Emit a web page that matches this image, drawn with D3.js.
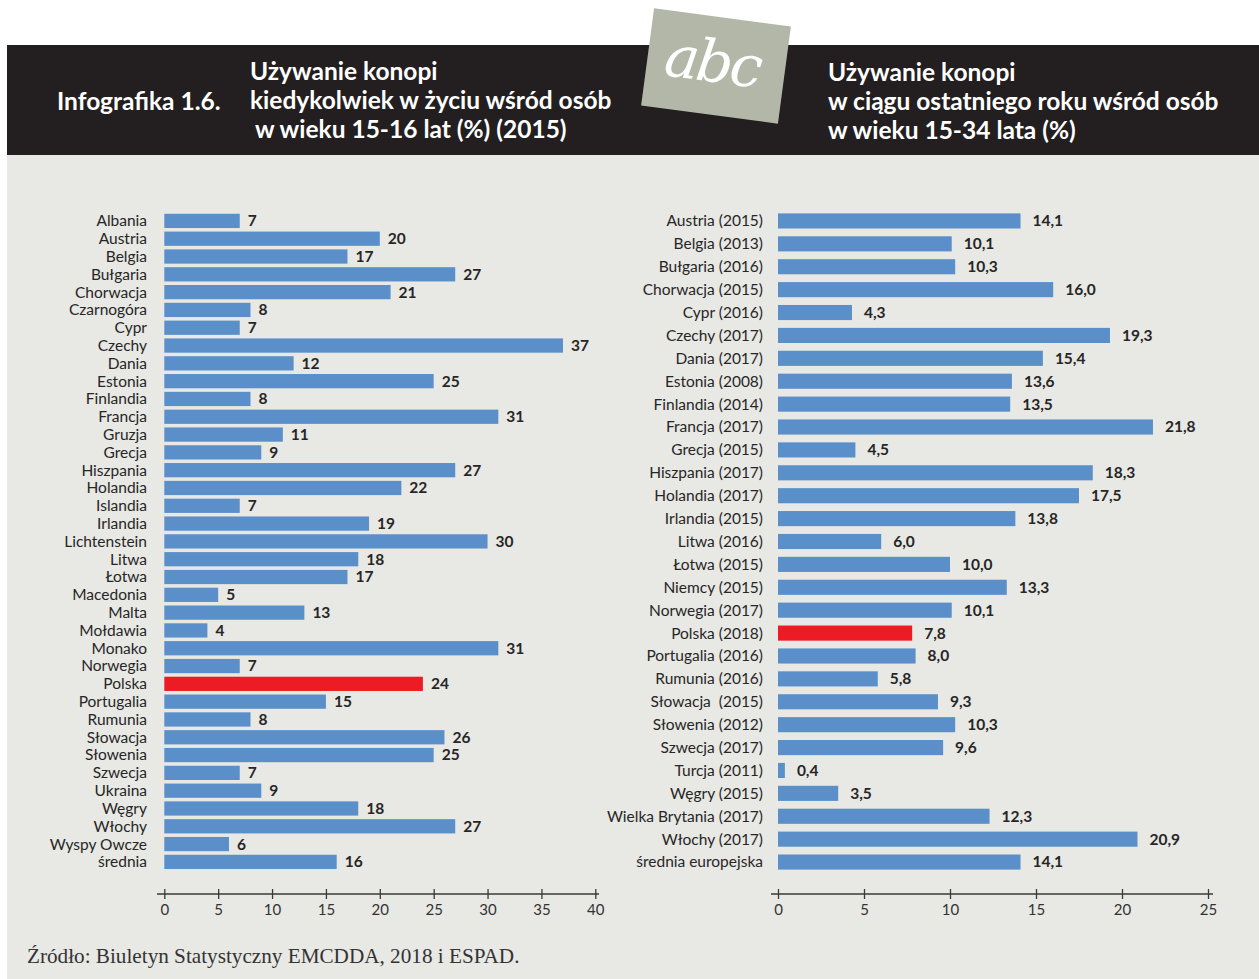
<!DOCTYPE html>
<html><head><meta charset="utf-8">
<script src="https://cdn.jsdelivr.net/npm/d3@7"></script>
<style>
html,body{margin:0;padding:0;background:#fff;}
svg{display:block;}
</style></head>
<body>
<script>
// ---- data ----
const leftCategories = ["Albania","Austria","Belgia","Bułgaria","Chorwacja","Czarnogóra","Cypr","Czechy","Dania","Estonia","Finlandia","Francja","Gruzja","Grecja","Hiszpania","Holandia","Islandia","Irlandia","Lichtenstein","Litwa","Łotwa","Macedonia","Malta","Mołdawia","Monako","Norwegia","Polska","Portugalia","Rumunia","Słowacja","Słowenia","Szwecja","Ukraina","Węgry","Włochy","Wyspy Owcze","średnia"];
const leftValues = [7,20,17,27,21,8,7,37,12,25,8,31,11,9,27,22,7,19,30,18,17,5,13,4,31,7,24,15,8,26,25,7,9,18,27,6,16];
const leftTicks = [0,5,10,15,20,25,30,35,40];

const rightCategories = ["Austria (2015)","Belgia (2013)","Bułgaria (2016)","Chorwacja (2015)","Cypr (2016)","Czechy (2017)","Dania (2017)","Estonia (2008)","Finlandia (2014)","Francja (2017)","Grecja (2015)","Hiszpania (2017)","Holandia (2017)","Irlandia (2015)","Litwa (2016)","Łotwa (2015)","Niemcy (2015)","Norwegia (2017)","Polska (2018)","Portugalia (2016)","Rumunia (2016)","Słowacja  (2015)","Słowenia (2012)","Szwecja (2017)","Turcja (2011)","Węgry (2015)","Wielka Brytania (2017)","Włochy (2017)","średnia europejska"];
const rightValues = [14.1,10.1,10.3,16.0,4.3,19.3,15.4,13.6,13.5,21.8,4.5,18.3,17.5,13.8,6.0,10.0,13.3,10.1,7.8,8.0,5.8,9.3,10.3,9.6,0.4,3.5,12.3,20.9,14.1];
const rightTicks = [0,5,10,15,20,25];

const highlight = ["Polska","Polska (2018)"];

const W = 1259, H = 979;
const FONT = "Lato, 'Open Sans', sans-serif";
const BLUE = "#5a8fca", RED = "#ed1c24", TXT = "#262626";

const svg = d3.select("body").append("svg").attr("width", W).attr("height", H);

// background panel
svg.append("rect").attr("x",7).attr("y",155).attr("width",W-7).attr("height",H-155).attr("fill","#e8e8e4");
// header band
svg.append("rect").attr("x",7).attr("y",45).attr("width",W-7).attr("height",110).attr("fill","#231f20");

// abc tag
const tag = svg.append("g").attr("transform","translate(716,66) rotate(7.6)");
tag.append("rect").attr("x",-69).attr("y",-49).attr("width",138).attr("height",98).attr("fill","#b3b7a8");
tag.append("text").attr("x",-4).attr("y",16).attr("text-anchor","middle")
  .attr("font-family","'DejaVu Serif', serif").attr("font-style","italic").attr("font-size",58)
  .attr("font-weight",300).attr("fill","#fff").attr("letter-spacing",-3).text("abc");

// header texts
const hdr = svg.append("g").attr("fill","#fff").attr("font-family",FONT).attr("font-weight","bold");
hdr.append("text").attr("x",57).attr("y",110).attr("font-size",24.5).text("Infografika 1.6.");
const lt = [["Używanie konopi",250,80],["kiedykolwiek w życiu wśród osób",250,109],["w wieku 15-16 lat (%) (2015)",255,138]];
lt.forEach(d=>hdr.append("text").attr("x",d[1]).attr("y",d[2]).attr("font-size",24.5).text(d[0]));
const rt = [["Używanie konopi",828,81],["w ciągu ostatniego roku wśród osób",828,110],["w wieku 15-34 lata (%)",828,139]];
rt.forEach(d=>hdr.append("text").attr("x",d[1]).attr("y",d[2]).attr("font-size",24.5).text(d[0]));

function drawChart(opts){
  const {cats, vals, ticks, x0, x1, dmax, yTop, yBot, pad, labelX, gap, fmt, axisL, axisR} = opts;
  const x = d3.scaleLinear().domain([0,dmax]).range([x0,x1]);
  const y = d3.scaleBand().domain(cats).range([yTop,yBot]).paddingInner(pad).paddingOuter(pad/2);
  const g = svg.append("g");
  const data = cats.map((c,i)=>({c, v: vals[i]}));
  g.selectAll("rect.bar").data(data).join("rect").attr("class","bar")
    .attr("x", x(0)).attr("y", d=>y(d.c)).attr("width", d=>x(d.v)-x(0)).attr("height", y.bandwidth())
    .attr("fill", d=>highlight.includes(d.c)?RED:BLUE);
  g.selectAll("text.cat").data(data).join("text").attr("class","cat")
    .attr("x", labelX).attr("y", d=>y(d.c)+y.bandwidth()/2).attr("dy","0.35em")
    .attr("text-anchor","end").attr("font-family",FONT).attr("font-size",15.5).attr("fill",TXT)
    .style("white-space","pre").text(d=>d.c);
  g.selectAll("text.val").data(data).join("text").attr("class","val")
    .attr("x", d=>x(d.v)+gap).attr("y", d=>y(d.c)+y.bandwidth()/2).attr("dy","0.35em")
    .attr("font-family",FONT).attr("font-weight","bold").attr("font-size",15.5).attr("fill",TXT)
    .text(d=>fmt(d.v));
  // axis
  const ax = svg.append("g").attr("transform","translate(0,894)");
  ax.append("line").attr("x1",axisL).attr("x2",axisR).attr("stroke","#3a3a3a").attr("stroke-width",1.3);
  const axis = d3.axisBottom(x).tickValues(ticks).tickSize(0).tickPadding(10).tickFormat(d3.format("d"));
  const a = ax.append("g").call(axis);
  a.select(".domain").remove();
  a.selectAll(".tick text").attr("font-family",FONT).attr("font-size",15).attr("fill","#333");
  a.selectAll(".tick").append("line").attr("y1",-5).attr("y2",5).attr("stroke","#3a3a3a").attr("stroke-width",1.3);
}

drawChart({cats:leftCategories, vals:leftValues, ticks:leftTicks, x0:164.3, x1:595.3, dmax:40,
  yTop:212, yBot:870.8, pad:0.2, labelX:147, gap:8, fmt:d=>d3.format("d")(d), axisL:157, axisR:599});
drawChart({cats:rightCategories, vals:rightValues, ticks:rightTicks, x0:778, x1:1208, dmax:25,
  yTop:209.5, yBot:873.5, pad:0.34, labelX:763, gap:12, fmt:d=>d.toFixed(1).replace(".",","), axisL:771, axisR:1213});

// source
svg.append("text").attr("x",27).attr("y",963).attr("font-family","'Liberation Serif','DejaVu Serif',serif")
  .attr("font-size",21.2).attr("fill","#333").text("Źródło: Biuletyn Statystyczny EMCDDA, 2018 i ESPAD.");
</script>
</body></html>
